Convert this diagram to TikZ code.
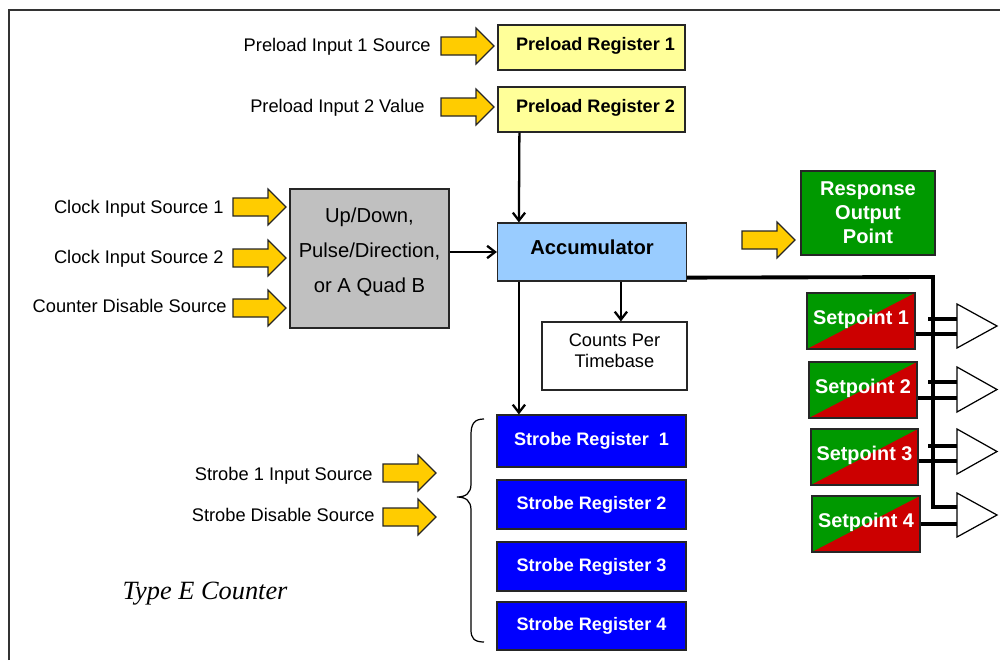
\documentclass[tikz,border=0pt]{standalone}
\usepackage{fontspec}
\setmainfont{Liberation Sans}
\newfontfamily\tnr{Liberation Serif}
\usetikzlibrary{arrows.meta,calc}
\definecolor{pyellow}{HTML}{FFFF99}
\definecolor{ugray}{HTML}{C0C0C0}
\definecolor{accblue}{HTML}{99CCFF}
\definecolor{rgreen}{HTML}{009900}
\definecolor{sred}{HTML}{CC0000}
\definecolor{sblue}{HTML}{0000FF}
\definecolor{ayellow}{HTML}{FFCC00}
\begin{document}
\begin{tikzpicture}[x=0.02cm,y=-0.02cm,
  box/.style={draw=black!85, line width=0.7pt, inner sep=0pt},
  lbl/.style={anchor=east, inner sep=0pt, text height=7.5pt, text depth=0pt, font=\fontsize{10.4}{12}\selectfont},
  regtext/.style={font=\bfseries\fontsize{10.3}{12}\selectfont},
  conn/.style={line width=1.3pt, -{Straight Barb[length=4.5pt,width=7pt]}},
  bus/.style={line width=2.2pt},
  tri/.style={draw=black, line width=0.7pt, fill=white},
  setpt/.style={box, fill=rgreen, text=white, minimum width=2.16cm, minimum height=1.12cm,
    text height=8.5pt, text depth=4.4pt,
    font=\bfseries\fontsize{11.3}{13}\selectfont,
    path picture={\fill[sred] (path picture bounding box.north east) -- (path picture bounding box.south west) -- (path picture bounding box.south east) -- cycle;}},
  strobe/.style={box, fill=sblue, text=white, minimum width=3.78cm, regtext},
  preload/.style={box, fill=pyellow, minimum width=3.74cm, minimum height=0.9cm, regtext, text height=8pt, text depth=4.6pt},
  yarrow/.pic={\draw[fill=ayellow, draw=black!85, line width=0.7pt] (-27,-9) -- (8,-9) -- (8,-18) -- (26,0) -- (8,18) -- (8,9) -- (-27,9) -- cycle;}
]
\useasboundingbox (0,0) rectangle (1000,660);
% frame
\draw[line width=0.8pt, draw=black!80] (9,660) -- (9,10) -- (1000,10);

% preload registers
\node[preload] (pr1) at (591.5,47.5) {\hspace*{0.16cm}Preload Register 1};
\node[preload] (pr2) at (591.5,109.5) {\hspace*{0.16cm}Preload Register 2};
\pic (ap1) at (468,46) {yarrow};
\pic (ap2) at (468,107) {yarrow};
\node[lbl] (lp1) at (431,45) {Preload Input 1 Source};
\node[lbl] (lp2) at (425,106) {Preload Input 2 Value};

% up/down
\node[box, fill=ugray, minimum width=3.18cm, minimum height=2.78cm] (ud) at (369.5,258.5) {};
\node[align=center, inner sep=0pt, font=\fontsize{11.5}{20}\selectfont] (udt) at (369.5,252) {Up/Down,\\Pulse/Direction,\\or A Quad B};
\pic (ac1) at (260,207) {yarrow};
\pic (ac2) at (260,258) {yarrow};
\pic (ac3) at (260,308) {yarrow};
\node[lbl] (lc1) at (224,207) {Clock Input Source 1};
\node[lbl] (lc2) at (224,257) {Clock Input Source 2};
\node[lbl] (lc3) at (227,306) {Counter Disable Source};

% accumulator
\node[box, fill=accblue, minimum width=3.78cm, minimum height=1.16cm, text height=8.5pt, text depth=6pt, font=\bfseries\fontsize{11.5}{13}\selectfont] (acc) at (592,252) {Accumulator};
\node[box, fill=white, minimum width=2.9cm, minimum height=1.36cm, align=center, text depth=5.7pt, font=\fontsize{10.4}{12}\selectfont] (cpt) at (614.5,356) {Counts Per\\Timebase};

% response
\node[box, fill=rgreen, text=white, align=center, minimum width=2.68cm, minimum height=1.68cm, font=\bfseries\fontsize{11.4}{13.7}\selectfont] (rop) at (868,213) {Response\\Output\\Point};
\pic (ar) at (769,240) {yarrow};

% strobe registers
\node[strobe, minimum height=1.04cm] (sr1) at (591.5,441) {Strobe Register~ 1};
\node[strobe, minimum height=0.98cm] (sr2) at (591.5,504.5) {Strobe Register 2};
\node[strobe, minimum height=0.98cm] (sr3) at (591.5,566.5) {Strobe Register 3};
\node[strobe, minimum height=0.96cm] (sr4) at (591.5,626) {Strobe Register 4};
\pic (as1) at (410,473) {yarrow};
\pic (as2) at (410,517) {yarrow};
\node[lbl] (ls1) at (373,474) {Strobe 1 Input Source};
\node[lbl] (ls2) at (375,515) {Strobe Disable Source};
\draw[line width=0.7pt] (484,419) .. controls (474,419) and (471,424) .. (471,435) -- (471,484) .. controls (471,493) and (466,497) .. (457,497) .. controls (466,497) and (471,501) .. (471,510) -- (471,630) .. controls (471,638) and (474,642) .. (484,642);

\node[font=\tnr\itshape\fontsize{15}{18}\selectfont] (title) at (205,594) {Type E Counter};

% setpoints
\node[setpt] (sp1) at (861,321) {Setpoint 1};
\node[setpt] (sp2) at (863,390) {Setpoint 2};
\node[setpt, minimum width=2.14cm] (sp3) at (864.5,457) {Setpoint 3};
\node[setpt] (sp4) at (866,524) {Setpoint 4};

% triangles
\draw[tri] (957,304) -- (997,326) -- (957,348) -- cycle;
\draw[tri] (957,367) -- (997,389.5) -- (957,412) -- cycle;
\draw[tri] (957,429) -- (997,451.5) -- (957,474) -- cycle;
\draw[tri] (957,493) -- (997,515) -- (957,537) -- cycle;
\coordinate (t1a) at (957,319); \coordinate (t1b) at (957,334);
\coordinate (t2a) at (957,382); \coordinate (t2b) at (957,398);
\coordinate (t3a) at (957,446); \coordinate (t3b) at (957,461);
\coordinate (t4a) at (957,507); \coordinate (t4b) at (957,524);

% connectors
\draw[conn] ($(pr2.south west)+(22,0)$) -- ($(acc.north west)+(22,0)$);
\draw[conn] (ud.east |- acc.west) -- (acc.west);
\coordinate (a1) at ($(acc.south west)+(124,0)$);
\draw[conn] (a1) -- (a1 |- cpt.north);
\coordinate (a2) at ($(acc.south west)+(22,0)$);
\draw[conn] (a2) -- (a2 |- sr1.north);

% bus
\coordinate (b0) at ($(acc.south east)+(0,-4)$);
\coordinate (bc) at (933,277);
\draw[bus] (b0) -- (bc) -- (bc |- t4a) -- (t4a);
\draw[bus] (t1a) -- ++(-29,0);
\draw[bus] (t2a) -- ++(-29,0);
\draw[bus] (t3a) -- ++(-29,0);
\draw[bus] (sp1.east |- t1b) -- (t1b);
\draw[bus] (sp2.east |- t2b) -- (t2b);
\draw[bus] (sp3.east |- t3b) -- (t3b);
\draw[bus] (sp4.east |- t4b) -- (t4b);
\end{tikzpicture}
\end{document}
